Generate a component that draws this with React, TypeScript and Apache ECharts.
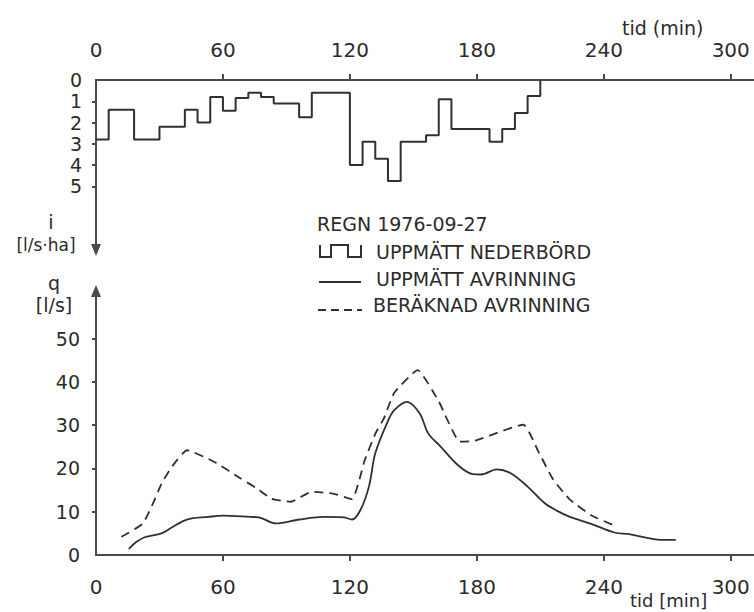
import React, { useEffect, useRef } from "react";
import * as echarts from "echarts";

// Hyetograph: start time of each 6-minute block [min] and measured intensity [l/s·ha]
const rainStart = [0, 6, 18, 30, 42, 48, 54, 60, 66, 72, 78, 84, 96, 102, 120, 126, 132, 138, 144, 156, 162, 168, 186, 192, 198, 204, 210];
const rainIntensity = [2.8, 1.4, 2.8, 2.2, 1.4, 2.0, 0.8, 1.45, 0.85, 0.6, 0.8, 1.1, 1.75, 0.6, 4.0, 2.9, 3.7, 4.75, 2.9, 2.6, 0.9, 2.3, 2.9, 2.3, 1.55, 0.75, 0];

// Measured runoff (solid)
const measuredTime = [15.5, 19, 23, 31, 36, 43, 53, 60, 73, 77, 85, 96, 108, 117, 121, 125, 129, 132, 138, 141, 147, 153, 157, 163, 171, 178, 182, 189.5, 196, 204, 212, 218, 224, 234, 245, 252, 267, 274];
const measuredFlow = [1.4, 3, 4.1, 5, 6.4, 8.2, 8.8, 9.1, 8.8, 8.7, 7.3, 8.2, 8.8, 8.7, 8.2, 10.4, 15.8, 23.5, 31, 33.5, 35.4, 32.7, 28.1, 25, 20.8, 18.7, 18.6, 19.8, 18.9, 15.8, 12, 10.2, 8.8, 7.2, 5.2, 4.8, 3.5, 3.5];

// Computed runoff (dashed)
const computedTime = [12, 22, 27, 31, 36, 43, 56, 68, 76, 83, 92, 102, 112, 121, 127, 132, 136, 141, 152, 162, 172, 179, 202, 209, 216, 224, 234, 245];
const computedFlow = [4.2, 7.2, 12, 16.5, 20.5, 24.2, 21.5, 17.8, 15.4, 13, 12.3, 14.6, 14.2, 12.9, 21.9, 28, 31.5, 37.5, 42.7, 35.5, 26.2, 26.4, 30.1, 24, 17.5, 12.8, 9.2, 6.8];

const timeTicks = [0, 60, 120, 180, 240, 300];
const intensityTicks = [0, 1, 2, 3, 4, 5];
const flowTicks = [0, 10, 20, 30, 40, 50];

const FONT = "DejaVu Sans";
const INK = "#2b2b2b";
const AXIS = "#4a4a4a";

export default function App() {
  const ref = useRef<HTMLDivElement>(null);

  useEffect(() => {
    if (!ref.current) return;
    const chart = echarts.init(ref.current, undefined, { renderer: "svg" });

    const labelStyle = { color: INK, fontFamily: FONT, fontSize: 19 };

    const option: any = {
      animation: false,
      backgroundColor: "#ffffff",
      grid: [
        { left: 96, top: 80, width: 658, height: 170 },
        { left: 96, top: 291, width: 658, height: 264 },
      ],
      xAxis: [
        {
          gridIndex: 0,
          type: "value",
          position: "top",
          min: 0,
          max: 311,
          interval: 60,
          splitLine: { show: false },
          axisLine: { lineStyle: { color: AXIS, width: 2 } },
          axisTick: { show: true, length: 6, customValues: timeTicks.slice(1), lineStyle: { color: AXIS, width: 2 } },
          axisLabel: { ...labelStyle, fontSize: 20, margin: 20, customValues: timeTicks },
        },
        {
          gridIndex: 1,
          type: "value",
          position: "bottom",
          min: 0,
          max: 311,
          interval: 60,
          splitLine: { show: false },
          axisLine: { lineStyle: { color: AXIS, width: 2 } },
          axisTick: { show: true, length: 6, customValues: timeTicks.slice(1), lineStyle: { color: AXIS, width: 2 } },
          axisLabel: { ...labelStyle, fontSize: 20, margin: 22, customValues: timeTicks },
        },
      ],
      yAxis: [
        {
          gridIndex: 0,
          type: "value",
          inverse: true,
          min: 0,
          max: 8,
          interval: 1,
          splitLine: { show: false },
          axisLine: {
            show: true,
            symbol: ["triangle", "none"],
            symbolSize: [10, 12],
            lineStyle: { color: AXIS, width: 2 },
          },
          axisTick: { show: true, length: 4, customValues: intensityTicks.slice(1), lineStyle: { color: AXIS, width: 2 } },
          axisLabel: { ...labelStyle, margin: 14, customValues: intensityTicks },
        },
        {
          gridIndex: 1,
          type: "value",
          min: 0,
          max: 61,
          interval: 10,
          splitLine: { show: false },
          axisLine: {
            show: true,
            symbol: ["none", "triangle"],
            symbolSize: [10, 12],
            lineStyle: { color: AXIS, width: 2 },
          },
          axisTick: { show: true, length: 4, customValues: flowTicks.slice(1), lineStyle: { color: AXIS, width: 2 } },
          axisLabel: { ...labelStyle, margin: 16, customValues: flowTicks },
        },
      ],
      series: [
        {
          name: "UPPMÄTT NEDERBÖRD",
          type: "line",
          xAxisIndex: 0,
          yAxisIndex: 0,
          step: "end",
          symbol: "none",
          data: rainStart.map((t, i) => [t, rainIntensity[i]]),
          lineStyle: { color: "#303030", width: 2 },
        },
        {
          name: "UPPMÄTT AVRINNING",
          type: "line",
          xAxisIndex: 1,
          yAxisIndex: 1,
          smooth: 0.35,
          symbol: "none",
          data: measuredTime.map((t, i) => [t, measuredFlow[i]]),
          lineStyle: { color: "#303030", width: 1.8 },
        },
        {
          name: "BERÄKNAD AVRINNING",
          type: "line",
          xAxisIndex: 1,
          yAxisIndex: 1,
          smooth: 0.15,
          symbol: "none",
          data: computedTime.map((t, i) => [t, computedFlow[i]]),
          lineStyle: { color: "#303030", width: 1.8, type: [9, 6] },
        },
      ],
      graphic: [
        // axis titles
        { type: "text", x: 622, y: 28, style: { text: "tid (min)", font: `19px '${FONT}'`, fill: INK, verticalAlign: "middle" } },
        { type: "text", x: 630, y: 600, style: { text: "tid [min]", font: `18px '${FONT}'`, fill: INK, verticalAlign: "middle" } },
        { type: "text", x: 51, y: 222, style: { text: "i", font: `19px '${FONT}'`, fill: INK, align: "center", verticalAlign: "middle" } },
        { type: "text", x: 46, y: 245, style: { text: "[l/s·ha]", font: `17px '${FONT}'`, fill: INK, align: "center", verticalAlign: "middle" } },
        { type: "text", x: 54, y: 283, style: { text: "q", font: `19px '${FONT}'`, fill: INK, align: "center", verticalAlign: "middle" } },
        { type: "text", x: 54, y: 305, style: { text: "[l/s]", font: `19px '${FONT}'`, fill: INK, align: "center", verticalAlign: "middle" } },
        // legend
        { type: "text", x: 317, y: 224, style: { text: "REGN 1976-09-27", font: `19px '${FONT}'`, fill: INK, verticalAlign: "middle" } },
        {
          type: "polyline",
          shape: { points: [[320, 245], [320, 257], [331, 257], [331, 245], [348, 245], [348, 257], [361, 257], [361, 245]] },
          style: { stroke: "#303030", lineWidth: 2, fill: "none" },
        },
        { type: "text", x: 376, y: 252, style: { text: "UPPMÄTT NEDERBÖRD", font: `19px '${FONT}'`, fill: INK, verticalAlign: "middle" } },
        { type: "line", shape: { x1: 319, y1: 282, x2: 361, y2: 282 }, style: { stroke: "#303030", lineWidth: 1.8 } },
        { type: "text", x: 376, y: 279, style: { text: "UPPMÄTT AVRINNING", font: `19px '${FONT}'`, fill: INK, verticalAlign: "middle" } },
        { type: "line", shape: { x1: 318, y1: 310, x2: 362, y2: 310 }, style: { stroke: "#303030", lineWidth: 1.8, lineDash: [8, 5] } },
        { type: "text", x: 373, y: 305, style: { text: "BERÄKNAD AVRINNING", font: `19px '${FONT}'`, fill: INK, verticalAlign: "middle" } },
      ],
    };

    chart.setOption(option);
    return () => chart.dispose();
  }, []);

  return (
    <div
      ref={ref}
      style={{ position: "absolute", left: 0, top: 0, width: 754, height: 612, background: "#fff" }}
    />
  );
}
